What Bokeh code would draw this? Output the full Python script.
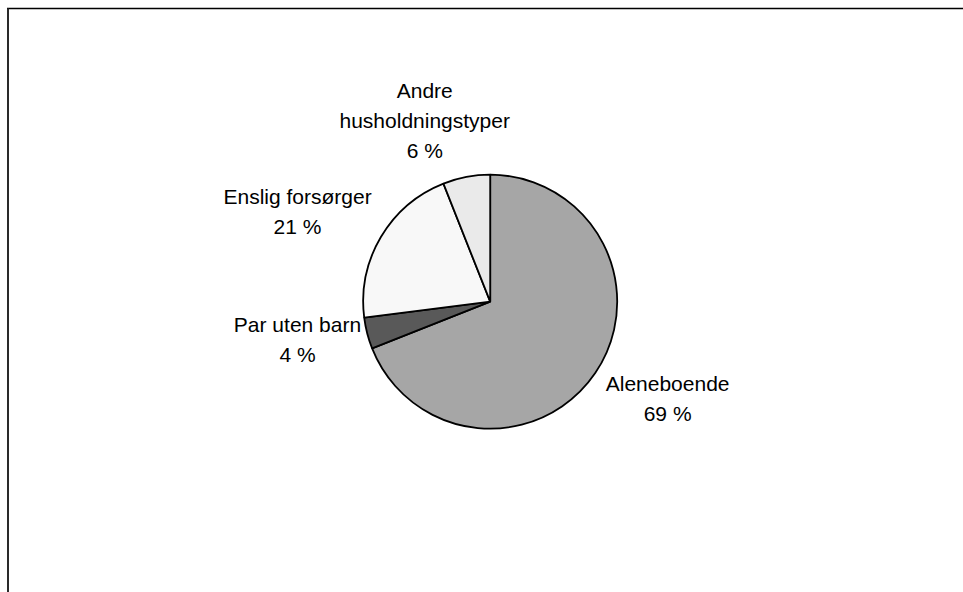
import math
from bokeh.plotting import figure
from bokeh.models import Range1d, ColumnDataSource
from bokeh.embed import file_html
from bokeh.resources import INLINE
from bokeh.core.properties import value

# ---- data ----
categories = ["Aleneboende", "Par uten barn", "Enslig forsørger", "Andre husholdningstyper"]
shares = [69, 4, 21, 6]
label_names = [["Aleneboende"], ["Par uten barn"], ["Enslig forsørger"], ["Andre", "husholdningstyper"]]

# ---- style / layout ----
colors = ["#A6A6A6", "#595959", "#F8F8F8", "#EAEAEA"]
label_nudges = [(12, 16), (1, 11.5), (-20.5, -11.6), (-28, -15)]  # pixel nudges (x, y-up)

W, H = 963, 592
CX, CY, R = 489.7, 290.8, 127
LABEL_R = 200
LINE_STEP = 30
FRAME_LEFT, FRAME_TOP = 7.5, H - 8

p = figure(width=W, height=H, x_range=Range1d(0, W), y_range=Range1d(0, H),
           output_backend="svg", toolbar_location=None, min_border=0,
           x_axis_location=None, y_axis_location=None)
p.grid.visible = False
p.outline_line_color = None
p.background_fill_color = "white"
p.border_fill_color = "white"

total = sum(shares)
starts, ends, mids = [], [], []
cum = 0
for v in shares:
    a0 = math.pi / 2 - 2 * math.pi * cum / total
    a1 = math.pi / 2 - 2 * math.pi * (cum + v) / total
    am = math.pi / 2 - 2 * math.pi * (cum + v / 2) / total
    starts.append(a0); ends.append(a1); mids.append(am)
    cum += v

src = ColumnDataSource(dict(cat=categories, share=shares, start=starts, end=ends, color=colors,
                            x=[CX] * len(shares), y=[CY] * len(shares)))
p.wedge(x="x", y="y", radius=R, start_angle="start", end_angle="end", direction="clock",
        fill_color="color", line_color="black", line_width=1.8, source=src)

lx, ly, lt = [], [], []
for i, v in enumerate(shares):
    lines = label_names[i] + [f"{v} %"]
    bx = CX + LABEL_R * math.cos(mids[i]) + label_nudges[i][0]
    by = CY + LABEL_R * math.sin(mids[i]) + label_nudges[i][1]
    n = len(lines)
    for j, t in enumerate(lines):
        lx.append(bx)
        ly.append(by + ((n - 1) / 2 - j) * LINE_STEP)
        lt.append(t)

p.text(x=lx, y=ly, text=lt, text_align="center", text_baseline="middle",
       text_font=value("Liberation Sans"), text_font_size="21px", text_color="black")

# chart-area frame: only its top and left edges fall inside the window
p.segment(x0=[FRAME_LEFT - 1], y0=[FRAME_TOP], x1=[W + 20], y1=[FRAME_TOP],
          line_color="black", line_width=1.4)
p.segment(x0=[FRAME_LEFT], y0=[FRAME_TOP], x1=[FRAME_LEFT], y1=[-20],
          line_color="#2a2a2a", line_width=2)

open("out.html", "w").write(file_html(p, INLINE))
